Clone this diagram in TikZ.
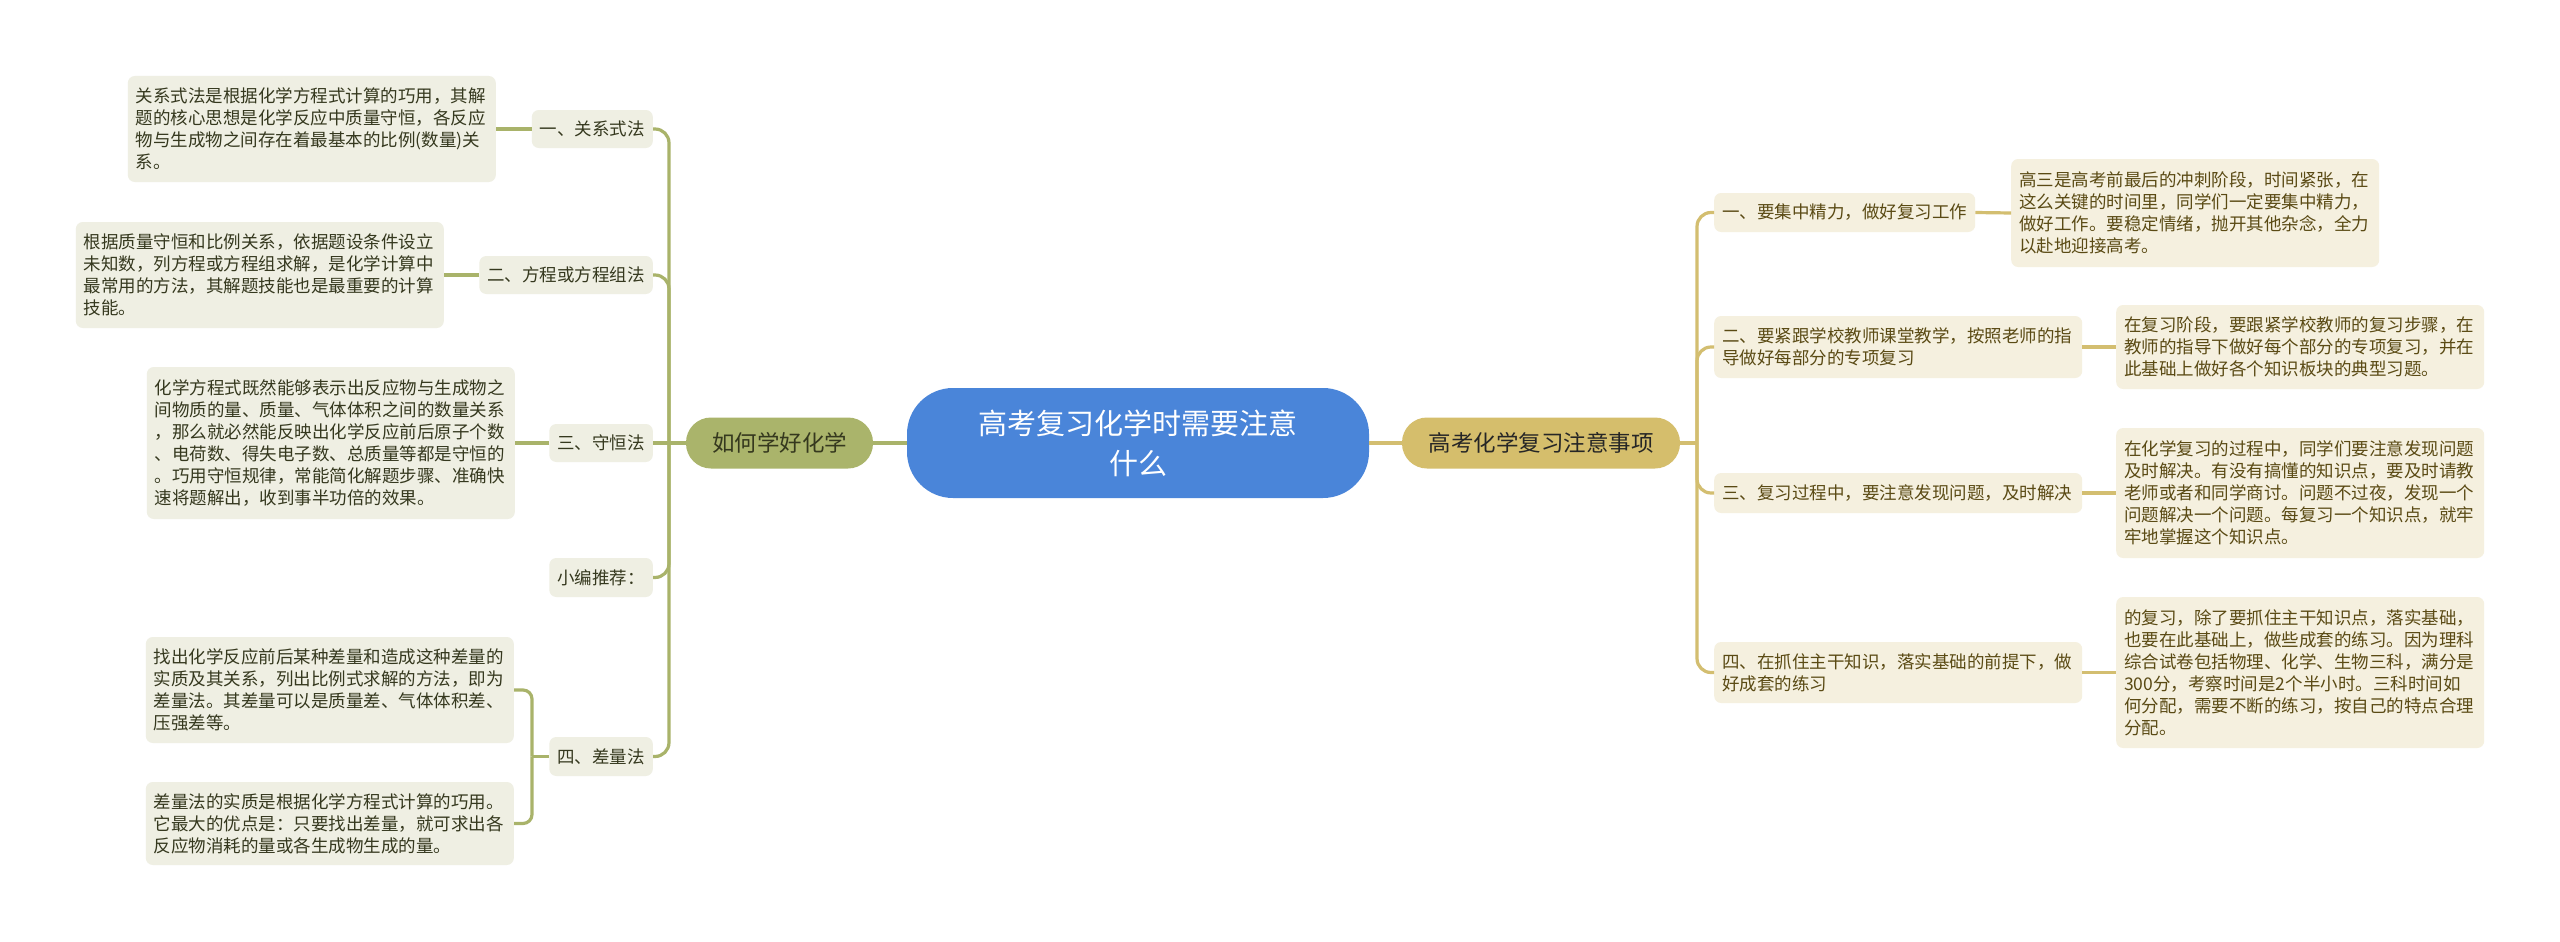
\documentclass[tikz,border=0pt]{standalone}
\usepackage{fontspec}
\setmainfont{Noto Sans CJK SC}
\definecolor{cblue}{HTML}{4A85D9}
\definecolor{lolive}{HTML}{AAB46B}
\definecolor{rgold}{HTML}{D5BE6C}
\definecolor{lfill}{HTML}{EFEFE3}
\definecolor{rfill}{HTML}{F5F0DF}
\definecolor{ltext}{HTML}{35381E}
\definecolor{rtext}{HTML}{5A4A14}
\definecolor{lline}{HTML}{A9B36A}
\definecolor{rline}{HTML}{D3BE70}
\begin{document}
\begin{tikzpicture}[x=1pt,y=-1pt,
  box/.style={rounded corners=7pt, inner xsep=8pt, inner ysep=0pt, align=left,
    font=\fontsize{17.5}{22}\selectfont},
  lbox/.style={box, fill=lfill, text=ltext},
  rbox/.style={box, fill=rfill, text=rtext},
  lcon/.style={draw=lline, line width=3.2pt},
  rcon/.style={draw=rline, line width=3.2pt},
  mainnode/.style={rounded corners=25pt, minimum height=51pt, inner xsep=0pt,
    font=\fontsize{22.5}{27}\selectfont},
]
\fill[white] (0,0) rectangle (2560,942);
\useasboundingbox (0,0) rectangle (2560,942);

% centre and main nodes
\node[fill=cblue, rounded corners=46pt, minimum width=462pt, minimum height=110pt,
  text=white, align=center, font=\fontsize{29}{40}\selectfont] (ctr) at (1138,443)
  {高考复习化学时需要注意\\什么};
\node[mainnode, fill=lolive, minimum width=187pt, text=ltext] (lmain) at (779.5,443) {如何学好化学};
\node[mainnode, fill=rgold, minimum width=278pt, text=black!85] (rmain) at (1541,443) {高考化学复习注意事项};

% left children
\node[lbox, anchor=east, minimum height=38pt] (c1) at (653,129) {一、关系式法};
\node[lbox, anchor=east, minimum height=38pt] (c2) at (653,275) {二、方程或方程组法};
\node[lbox, anchor=east, minimum height=38pt] (c3) at (653,443) {三、守恒法};
\node[lbox, anchor=east, minimum height=39pt] (c4) at (653,577.5) {小编推荐：};
\node[lbox, anchor=east, minimum height=39pt] (c5) at (653,756.5) {四、差量法};

% left leaves
\node[lbox, anchor=east, text width=352pt, minimum height=106pt] (l1) at (496,129)
 {关系式法是根据化学方程式计算的巧用，其解\\题的核心思想是化学反应中质量守恒，各反应\\物与生成物之间存在着最基本的比例(数量)关\\系。};
\node[lbox, anchor=east, text width=352pt, minimum height=106pt] (l2) at (444,275)
 {根据质量守恒和比例关系，依据题设条件设立\\未知数，列方程或方程组求解，是化学计算中\\最常用的方法，其解题技能也是最重要的计算\\技能。};
\node[lbox, anchor=east, text width=352pt, minimum height=152pt] (l3) at (515,443)
 {化学方程式既然能够表示出反应物与生成物之\\间物质的量、质量、气体体积之间的数量关系\\，那么就必然能反映出化学反应前后原子个数\\、电荷数、得失电子数、总质量等都是守恒的\\。巧用守恒规律，常能简化解题步骤、准确快\\速将题解出，收到事半功倍的效果。};
\node[lbox, anchor=east, text width=352pt, minimum height=106pt] (l5a) at (514,690)
 {找出化学反应前后某种差量和造成这种差量的\\实质及其关系，列出比例式求解的方法，即为\\差量法。其差量可以是质量差、气体体积差、\\压强差等。};
\node[lbox, anchor=east, text width=352pt, minimum height=83pt] (l5b) at (514,823.5)
 {差量法的实质是根据化学方程式计算的巧用。\\它最大的优点是：只要找出差量，就可求出各\\反应物消耗的量或各生成物生成的量。};

% right children
\node[rbox, anchor=west, minimum height=39pt] (r1) at (1714,212.5) {一、要集中精力，做好复习工作};
\node[rbox, anchor=west, text width=352pt, minimum height=62pt] (r2) at (1714,347)
 {二、要紧跟学校教师课堂教学，按照老师的指\\导做好每部分的专项复习};
\node[rbox, anchor=west, text width=352pt, minimum height=40pt] (r3) at (1714,493)
 {三、复习过程中，要注意发现问题，及时解决};
\node[rbox, anchor=west, text width=352pt, minimum height=61pt] (r4) at (1714,672.5)
 {四、在抓住主干知识，落实基础的前提下，做\\好成套的练习};

% right leaves
\node[rbox, anchor=west, text width=352pt, minimum height=108pt] (rl1) at (2011,213)
 {高三是高考前最后的冲刺阶段，时间紧张，在\\这么关键的时间里，同学们一定要集中精力，\\做好工作。要稳定情绪，抛开其他杂念，全力\\以赴地迎接高考。};
\node[rbox, anchor=west, text width=352pt, minimum height=84pt] (rl2) at (2116,347)
 {在复习阶段，要跟紧学校教师的复习步骤，在\\教师的指导下做好每个部分的专项复习，并在\\此基础上做好各个知识板块的典型习题。};
\node[rbox, anchor=west, text width=352pt, minimum height=130pt] (rl3) at (2116,493)
 {在化学复习的过程中，同学们要注意发现问题\\及时解决。有没有搞懂的知识点，要及时请教\\老师或者和同学商讨。问题不过夜，发现一个\\问题解决一个问题。每复习一个知识点，就牢\\牢地掌握这个知识点。};
\node[rbox, anchor=west, text width=352pt, minimum height=151pt] (rl4) at (2116,672.5)
 {的复习，除了要抓住主干知识点，落实基础，\\也要在此基础上，做些成套的练习。因为理科\\综合试卷包括物理、化学、生物三科，满分是\\300分，考察时间是2个半小时。三科时间如\\何分配，需要不断的练习，按自己的特点合理\\分配。};

% junctions
\coordinate (lj) at (669,443);
\coordinate (bj) at (532,756.5);
\coordinate (rj) at (1697,443);

% connectors, left
\draw[lcon] (ctr.west) -- (lmain.east);
\draw[lcon] (lmain.west) -- (lj);
\draw[lcon, rounded corners=14pt] (lj) |- (c1.east);
\draw[lcon, rounded corners=14pt] (lj) |- (c2.east);
\draw[lcon] (lj) -- (c3.east);
\draw[lcon, rounded corners=14pt] (lj) |- (c4.east);
\draw[lcon, rounded corners=14pt] (lj) |- (c5.east);
\draw[lcon] (c1.west) -- (l1.east);
\draw[lcon] (c2.west) -- (l2.east);
\draw[lcon] (c3.west) -- (l3.east);
\draw[lcon] (c5.west) -- (bj);
\draw[lcon, rounded corners=9pt] (bj) |- (l5a.east);
\draw[lcon, rounded corners=9pt] (bj) |- (l5b.east);

% connectors, right
\draw[rcon] (ctr.east) -- (rmain.west);
\draw[rcon] (rmain.east) -- (rj);
\draw[rcon, rounded corners=14pt] (rj) |- (r1.west);
\draw[rcon, rounded corners=14pt] (rj) |- (r2.west);
\draw[rcon, rounded corners=14pt] (rj) |- (r3.west);
\draw[rcon, rounded corners=14pt] (rj) |- (r4.west);
\draw[rcon] (r1.east) -- (rl1.west);
\draw[rcon] (r2.east) -- (rl2.west);
\draw[rcon] (r3.east) -- (rl3.west);
\draw[rcon] (r4.east) -- (rl4.west);
\end{tikzpicture}
\end{document}
